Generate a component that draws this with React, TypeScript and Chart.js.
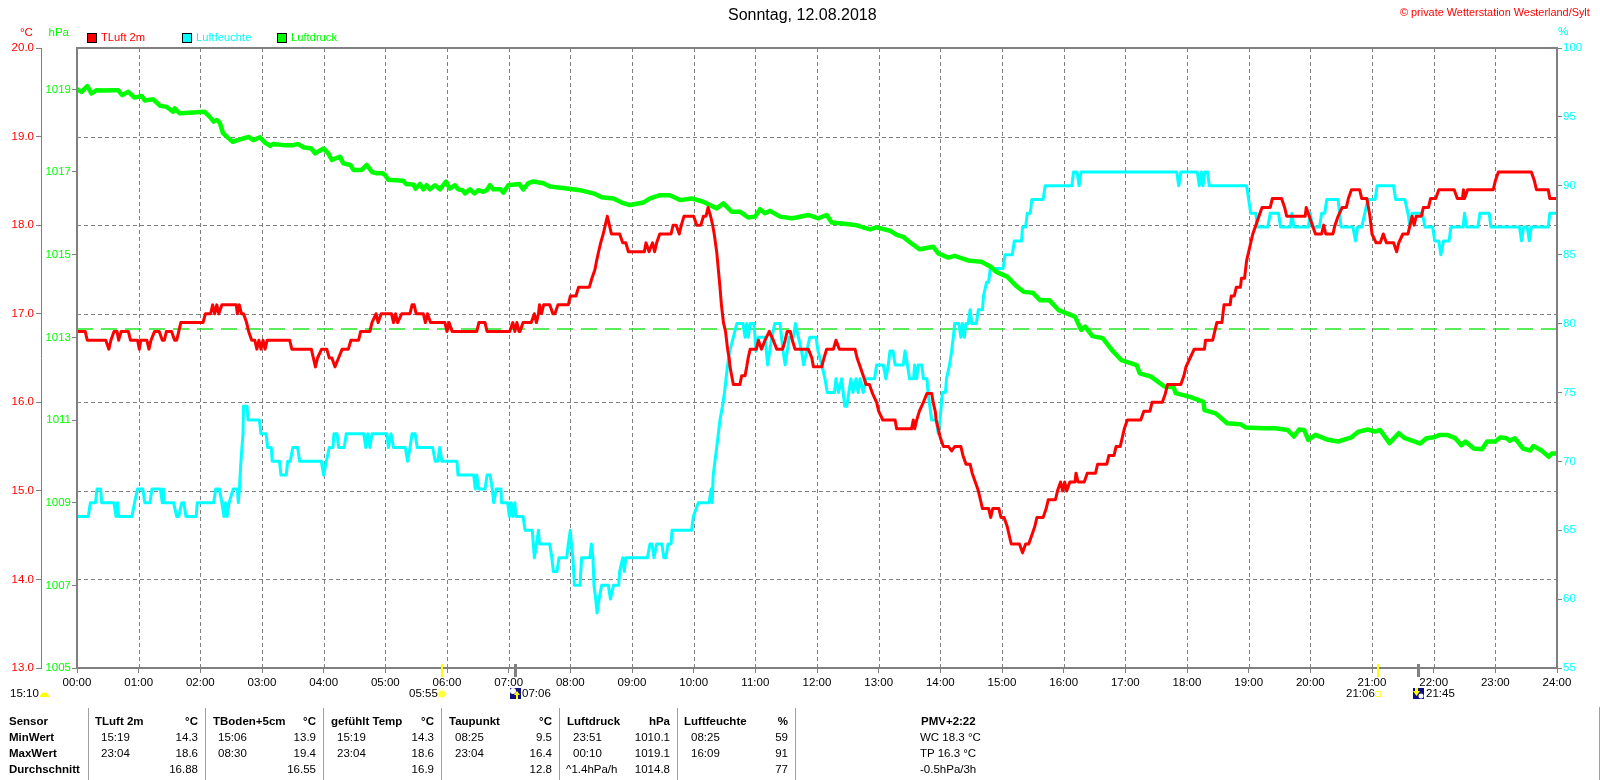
import React, { useEffect, useRef } from "react";
import { Chart, registerables } from "chart.js";

Chart.register(...registerables);

const FONT = '"Liberation Sans", Arial, sans-serif';
const GRAY = "#808080";
const RED = "#ff0000";
const CYAN = "#00ffff";
const GREEN = "#00ff00";

const hourTicks = [0, 60, 120, 180, 240, 300, 360, 420, 480, 540, 600, 660, 720, 780, 840, 900, 960, 1020, 1080, 1140, 1200, 1260, 1320, 1380, 1440];
const hourLabels = ["00:00", "01:00", "02:00", "03:00", "04:00", "05:00", "06:00", "07:00", "08:00", "09:00", "10:00", "11:00", "12:00", "13:00", "14:00", "15:00", "16:00", "17:00", "18:00", "19:00", "20:00", "21:00", "22:00", "23:00", "24:00"];
const tempTicks = [13, 14, 15, 16, 17, 18, 19, 20];
const pressureTicks = [1005, 1007, 1009, 1011, 1013, 1015, 1017, 1019];
const humidityTicks = [55, 60, 65, 70, 75, 80, 85, 90, 95, 100];
const referencePressure = 1013.2;

const tempTrace: [number, number][] = [
  [0,16.8],[8,16.8],[10,16.7],[28,16.7],[31,16.6],[33,16.7],[36,16.8],[39,16.8],[40.5,16.7],[43,16.8],[50,16.8],[52,16.7],[59,16.7],[60.6,16.6],[62,16.7],[68,16.7],[70,16.6],[72,16.7],[75.5,16.8],[80,16.8],[83,16.7],[85,16.7],[87,16.8],[92,16.8],[95,16.7],[97,16.7],[99,16.8],[101,16.9],[122.6,16.9],[125,17.0],[130,17.0],[132,17.1],[134,17.0],[136,17.1],[138,17.0],[141,17.1],[155,17.1],[156,17.0],[158,17.1],[160,17.0],[162,17.0],[165,16.9],[167,16.8],[170,16.7],[173,16.7],[175,16.6],[177,16.7],[179,16.6],[181,16.7],[183,16.6],[185,16.7],[207,16.7],[209,16.6],[228,16.6],[230,16.5],[232,16.4],[234,16.5],[238,16.6],[243,16.6],[245.5,16.5],[248,16.5],[251,16.4],[254.5,16.5],[258,16.6],[264,16.6],[266.5,16.7],[274,16.7],[276,16.8],[285,16.8],[287,16.9],[291,17.0],[293,16.9],[296,17.0],[306,17.0],[308,16.9],[310,17.0],[312,16.9],[316,17.0],[324,17.0],[326,17.1],[328,17.1],[330,17.0],[337,17.0],[339,16.9],[341,17.0],[344,16.9],[358,16.9],[360,16.8],[362,16.9],[365,16.8],[389,16.8],[391,16.9],[397,16.9],[399,16.8],[421,16.8],[424,16.9],[426,16.8],[428,16.9],[430,16.8],[431,16.8],[434,16.9],[442,16.9],[445,17.0],[447,16.9],[449,17.0],[450,17.1],[452,17.0],[454,17.1],[460,17.1],[463,17.0],[465,17.0],[468,17.1],[478,17.1],[480,17.2],[485.5,17.2],[488,17.3],[498.5,17.3],[501,17.4],[504,17.5],[505.6,17.6],[507.5,17.7],[509.5,17.8],[512,17.9],[514,18.0],[516,18.1],[518,18.0],[520,17.9],[528,17.9],[531,17.8],[534,17.8],[536.5,17.7],[552,17.7],[553.6,17.8],[556.6,17.7],[560,17.8],[562,17.7],[564,17.8],[567,17.9],[578,17.9],[580,18.0],[583,18.0],[586,17.9],[588,18.0],[590.6,18.1],[600,18.1],[603,18.0],[607,18.0],[609.5,18.1],[612,18.1],[614,18.2],[616.5,18.1],[618.5,18.0],[620,17.9],[622.4,17.7],[624,17.5],[625.6,17.3],[627,17.1],[629,16.9],[631,16.8],[633,16.6],[634.5,16.5],[635.4,16.4],[637,16.3],[638.6,16.2],[645,16.2],[646.7,16.3],[650,16.3],[651.6,16.4],[653,16.5],[655,16.6],[661,16.6],[663,16.7],[666,16.6],[669.4,16.7],[673.6,16.8],[677.5,16.7],[680.8,16.6],[686.6,16.6],[689,16.7],[691,16.8],[694,16.8],[696,16.7],[698.6,16.6],[711.6,16.6],[715,16.5],[716.5,16.4],[724.6,16.4],[726.8,16.5],[729.4,16.6],[736,16.6],[738.5,16.7],[741.7,16.6],[757,16.6],[759,16.5],[762,16.4],[765,16.3],[767.7,16.2],[771,16.2],[774,16.1],[778,16.0],[780,15.9],[784,15.8],[796,15.8],[797.5,15.7],[812,15.7],[813.7,15.8],[815,15.7],[817,15.8],[819.6,15.9],[823.5,16.0],[827,16.1],[831.6,16.1],[833,16.0],[835,15.9],[836,15.8],[838,15.7],[840,15.6],[843,15.5],[848,15.5],[851,15.45],[854,15.5],[860,15.5],[862,15.4],[865,15.3],[869,15.3],[871,15.2],[874,15.1],[877,15.0],[879,14.9],[881,14.8],[887,14.8],[889,14.7],[891,14.8],[897,14.8],[899,14.7],[902,14.7],[905,14.6],[907,14.5],[909,14.4],[917,14.4],[920,14.3],[923,14.4],[926,14.4],[929,14.5],[932,14.6],[934,14.7],[940,14.7],[943,14.8],[945,14.9],[952,14.9],[954,15.0],[957,15.1],[959,15.0],[961,15.1],[963,15.0],[966,15.1],[971,15.1],[972,15.2],[974,15.1],[980,15.1],[983,15.2],[991,15.2],[993,15.3],[1002,15.3],[1004,15.4],[1009,15.4],[1011,15.5],[1015,15.5],[1017,15.6],[1019,15.7],[1022,15.8],[1035,15.8],[1038,15.9],[1044,15.9],[1046,16.0],[1056,16.0],[1059,16.1],[1061,16.2],[1074,16.2],[1077,16.3],[1079,16.4],[1083,16.5],[1087,16.6],[1097,16.6],[1098,16.7],[1105,16.7],[1107,16.8],[1109,16.9],[1114,16.9],[1116,17.1],[1122,17.1],[1123,17.2],[1126,17.2],[1128,17.3],[1132,17.3],[1133,17.4],[1136,17.4],[1138,17.6],[1140,17.7],[1142,17.8],[1144,17.9],[1147,18.0],[1150,18.1],[1153,18.2],[1161,18.2],[1163,18.3],[1172,18.3],[1175,18.2],[1177,18.1],[1195,18.1],[1196,18.2],[1199,18.1],[1202,18.0],[1205,17.9],[1211,17.9],[1213,18.0],[1215,17.9],[1222,17.9],[1224,18.0],[1227,18.1],[1231,18.2],[1235,18.2],[1237,18.3],[1240,18.4],[1248,18.4],[1250,18.3],[1255,18.3],[1258,18.1],[1260,17.9],[1264,17.8],[1268,17.8],[1271,17.9],[1274,17.8],[1281,17.8],[1284,17.7],[1286,17.8],[1290,17.9],[1295,17.9],[1297,18.0],[1299,18.1],[1301,18.0],[1303,18.1],[1308,18.1],[1310,18.2],[1315,18.2],[1317,18.3],[1322,18.3],[1325,18.4],[1340,18.4],[1343,18.3],[1348,18.3],[1349,18.4],[1350,18.3],[1353,18.4],[1378,18.4],[1380,18.5],[1383,18.6],[1415,18.6],[1418,18.5],[1420,18.4],[1431.5,18.4],[1433,18.3],[1440,18.3],
];

const humidityTrace: [number, number][] = [
  [0,66],[11,66],[13,67],[18,67],[19.5,68],[23,68],[24,67],[36,67],[38,66],[39.5,67],[40.5,66],[53.5,66],[56,67],[59,68],[64,68],[66,67],[71,67],[73,68],[81,68],[83,67],[84,68],[85,67],[94,67],[97,66],[99,66],[102,67],[104,67],[106,66],[116,66],[117,67],[133,67],[135,68],[138.5,68],[141,67],[143,66],[144.5,67],[146,66],[148,67],[152,68],[156,68],[157,67],[158,68],[159.5,70],[160.5,71],[161.5,72],[162,74],[165.4,74],[166.4,73],[177.4,73],[179,72],[184,72],[185.5,71],[189,71],[190,70],[197,70],[198.5,69],[203.6,69],[205,70],[207.5,70],[210,71],[214.7,71],[216.6,70],[237.7,70],[240,69],[242.6,70],[245.5,71],[249,71],[250,72],[253,72],[254.6,71],[260,71],[262,72],[279,72],[281,71],[283,72],[285,71],[287,72],[301.6,72],[303,71],[305.5,72],[308,71],[319.4,71],[321.7,70],[324,71],[326,72],[329,72],[331,71],[346,71],[348.6,70],[351,70],[353,71],[355,70],[369.7,70],[370.7,69],[386,69],[387.5,68],[389,69],[390.8,68],[397,68],[399,69],[402,69],[404,68],[405.4,67],[408,68],[412.5,68],[413,67],[419,67],[420.7,66],[422.6,67],[424,66],[426,67],[427,66],[434,66],[436,65],[443,65],[444,64],[445,63],[447,64],[449,65],[450,64],[460,64],[462,63],[463.5,62],[467,62],[469,63],[476.5,63],[478,64],[480,65],[481,64],[482.5,63],[484,61],[489.4,61],[491,63],[499,63],[500.5,64],[502,63],[503,61],[504.7,60],[506,59],[508,60],[510.5,61],[517,61],[519,60],[522,61],[527,61],[528,62],[531,63],[532.5,62],[534,63],[555,63],[557.5,64],[559.5,64],[561.4,63],[564,64],[569,64],[571,63],[573,63],[575,64],[578,64],[579,65],[598,65],[599.7,66],[604.5,67],[615,67],[617,68],[618,67],[619,69],[622.4,71],[624,72],[625.6,73],[628,74],[630,75],[631.5,76],[633,77],[635,78],[638.6,79],[642,80],[648,80],[650,79],[651.6,80],[653,79],[655,80],[658.7,80],[660.7,78],[663,79],[669.4,79],[672,77],[674,78],[676,79],[679,80],[684,80],[687,78],[689,77],[691,78],[693,79],[697,79],[699,80],[702,79],[705,78],[707,77],[710,78],[713,79],[719,79],[721,78],[724.6,77],[727.8,76],[730,75],[737,75],[738.5,76],[741,75],[744,76],[747,74],[749,74],[751,75],[753,76],[755,75],[758,76],[760,75],[762,76],[765,75],[767.7,76],[776,76],[778,77],[784.5,77],[787,76],[789.4,77],[791,78],[794,78],[796,77],[804,77],[805.6,78],[808,77],[810,76],[814,76],[815,77],[817,76],[818.6,77],[822,77],[823.5,76],[827,76],[828,75],[831.6,73],[836,73],[838,72],[839.7,73],[842,75],[845,75],[846,76],[849,77],[851,78],[852.6,79],[854,80],[858,80],[860,79],[861.6,80],[863.4,79],[865,80],[867,80],[869,81],[870.6,80],[875,80],[877,81],[881,81],[882,82],[885,83],[887,83],[888.6,84],[901,84],[903,85],[910,85],[912,86],[919,86],[920,87],[923,87],[924.6,88],[927.5,88],[929,89],[940,89],[942,90],[968,90],[969.6,91],[973,91],[975,90],[976.8,91],[1070,91],[1072,90],[1074,91],[1090,91],[1092,90],[1094,91],[1095.6,90],[1097.4,91],[1100,91],[1101.7,90],[1138,90],[1140,89],[1142,88],[1147,88],[1148.5,87],[1158.6,87],[1161,88],[1169,88],[1171,87],[1180.6,87],[1182,88],[1184,87],[1198,87],[1200,88],[1202,87],[1209,87],[1211,88],[1214,88],[1216,89],[1227,89],[1230,87],[1241.4,87],[1244,86],[1246,87],[1250,87],[1253,88],[1256,89],[1263,89],[1265,90],[1281,90],[1283,89],[1292,89],[1295,88],[1297,87],[1299,88],[1309,88],[1311.6,87],[1319,87],[1321,86],[1325,86],[1327,85],[1329.6,86],[1335,86],[1336.8,87],[1348.7,87],[1350,88],[1352,87],[1363,87],[1365,88],[1374,88],[1375.7,87],[1403.5,87],[1405.5,86],[1407.5,87],[1411,87],[1413,86],[1415,87],[1431.5,87],[1433,88],[1440,88],
];

const pressureTrace: [number, number][] = [
  [0,1019.0],[4.5,1018.94],[10,1019.08],[14,1018.9],[19,1018.98],[25.6,1018.97],[35,1018.98],[40,1018.98],[44,1018.86],[50,1018.94],[56,1018.8],[63,1018.84],[66,1018.73],[74,1018.76],[81,1018.6],[87,1018.58],[93.5,1018.46],[95,1018.54],[100,1018.42],[113,1018.44],[124,1018.46],[129,1018.34],[133,1018.22],[136,1018.26],[139,1018.19],[142,1017.94],[146,1017.85],[151.5,1017.73],[158.6,1017.79],[167,1017.85],[171.6,1017.77],[178,1017.84],[183,1017.71],[188,1017.63],[191,1017.68],[201,1017.65],[210.5,1017.65],[215,1017.68],[220,1017.6],[228,1017.57],[231.6,1017.45],[240,1017.57],[244.5,1017.45],[248,1017.29],[256,1017.37],[259,1017.21],[266,1017.17],[269,1017.05],[277,1017.05],[282,1017.17],[287,1017.0],[291.6,1016.97],[297,1016.97],[299.7,1016.93],[302.9,1016.81],[317.5,1016.79],[320,1016.71],[327.2,1016.7],[329.5,1016.6],[333.7,1016.71],[337,1016.58],[340.2,1016.68],[343.4,1016.58],[348.3,1016.68],[353.2,1016.58],[359,1016.77],[362.9,1016.6],[367.8,1016.68],[371,1016.58],[375.2,1016.56],[377.5,1016.48],[382.4,1016.58],[386.6,1016.48],[390.5,1016.56],[395.3,1016.52],[398.6,1016.56],[401.8,1016.68],[405,1016.58],[412.2,1016.58],[414.8,1016.5],[419.6,1016.68],[430.4,1016.71],[434.2,1016.58],[439.1,1016.73],[444,1016.77],[453.8,1016.73],[460.2,1016.65],[476.5,1016.6],[489.4,1016.56],[504,1016.47],[510.5,1016.39],[521.9,1016.36],[530,1016.26],[538,1016.2],[551,1016.26],[557.5,1016.36],[567.3,1016.44],[577,1016.44],[586.7,1016.32],[598,1016.36],[609.4,1016.28],[622.4,1016.12],[628.9,1016.24],[637,1016.04],[645,1016.04],[653,1015.9],[659.7,1015.92],[664.6,1016.1],[669.4,1016.0],[674.3,1016.06],[684,1015.92],[695.4,1015.88],[700,1015.9],[711.6,1015.96],[721.3,1015.88],[729.4,1015.96],[734.3,1015.78],[748.9,1015.74],[757,1015.72],[771.6,1015.61],[778,1015.66],[791,1015.58],[797.5,1015.48],[804,1015.43],[812,1015.27],[820,1015.13],[833.2,1015.19],[838,1015.03],[847.8,1014.93],[854,1014.97],[867,1014.86],[880,1014.83],[889,1014.71],[894,1014.59],[905,1014.47],[914,1014.24],[921,1014.1],[930,1014.08],[937,1013.9],[946,1013.9],[955,1013.66],[971,1013.5],[977,1013.18],[981,1013.26],[988,1013.03],[998,1012.98],[1007,1012.69],[1016,1012.45],[1031,1012.33],[1034,1012.13],[1045,1012.05],[1058,1011.81],[1067,1011.79],[1069,1011.65],[1083,1011.56],[1096,1011.44],[1097,1011.24],[1108,1011.16],[1119,1010.92],[1132,1010.9],[1137,1010.82],[1155,1010.8],[1166,1010.8],[1178,1010.76],[1184,1010.6],[1189,1010.77],[1194,1010.76],[1198,1010.52],[1205,1010.64],[1216,1010.53],[1227,1010.48],[1240,1010.58],[1247,1010.72],[1256,1010.77],[1263,1010.72],[1268,1010.76],[1277,1010.44],[1286,1010.68],[1292,1010.56],[1297,1010.52],[1307,1010.43],[1313,1010.56],[1320,1010.58],[1326,1010.64],[1333,1010.64],[1341,1010.56],[1347,1010.39],[1351,1010.48],[1359,1010.31],[1367,1010.29],[1372,1010.48],[1380,1010.48],[1385,1010.58],[1391,1010.56],[1394,1010.5],[1399,1010.56],[1407,1010.31],[1414,1010.26],[1417,1010.37],[1425,1010.26],[1432,1010.11],[1435,1010.19],[1440,1010.19],
];

const sunMarkers = [355, 1266];
const moonMarkers = [426, 1305];

const legendItems = [
  { label: "TLuft 2m", color: RED, box: 87, text: 101 },
  { label: "Luftfeuchte", color: CYAN, box: 182, text: 196 },
  { label: "Luftdruck", color: GREEN, box: 277, text: 291 },
];

const rowLabels = ["Sensor", "MinWert", "MaxWert", "Durchschnitt"];
const separators = [88, 205, 323, 441, 559, 677, 795];
const rowY = [722, 738, 754, 770];
const sensorCols = [
  { head: "TLuft 2m", unit: "°C", min: "15:19", minV: "14.3", max: "23:04", maxV: "18.6", avg: "16.88", note: "", hx: 95, tx: 101, rx: 198 },
  { head: "TBoden+5cm", unit: "°C", min: "15:06", minV: "13.9", max: "08:30", maxV: "19.4", avg: "16.55", note: "", hx: 213, tx: 218, rx: 316 },
  { head: "gefühlt Temp", unit: "°C", min: "15:19", minV: "14.3", max: "23:04", maxV: "18.6", avg: "16.9", note: "", hx: 331, tx: 337, rx: 434 },
  { head: "Taupunkt", unit: "°C", min: "08:25", minV: "9.5", max: "23:04", maxV: "16.4", avg: "12.8", note: "", hx: 449, tx: 455, rx: 552 },
  { head: "Luftdruck", unit: "hPa", min: "23:51", minV: "1010.1", max: "00:10", maxV: "1019.1", avg: "1014.8", note: "^1.4hPa/h", hx: 567, tx: 573, rx: 670 },
  { head: "Luftfeuchte", unit: "%", min: "08:25", minV: "59", max: "16:09", maxV: "91", avg: "77", note: "", hx: 684, tx: 691, rx: 788 },
];
const extraLines = ["WC 18.3 °C", "TP 16.3 °C", "-0.5hPa/3h"];

function toPoints(trace: [number, number][]) {
  return trace.map(([x, y]) => ({ x, y }));
}

const framePlugin = {
  id: "frame",
  beforeDatasetsDraw(chart: any) {
    const { ctx, chartArea: a, scales } = chart;
    ctx.save();
    ctx.strokeStyle = GRAY;
    ctx.lineWidth = 1;
    ctx.setLineDash([4, 3]);
    ctx.beginPath();
    hourTicks.slice(1, -1).forEach((t) => {
      const x = Math.round(scales.x.getPixelForValue(t)) + 0.5;
      ctx.moveTo(x, a.top);
      ctx.lineTo(x, a.bottom);
    });
    tempTicks.slice(1, -1).forEach((t) => {
      const y = Math.round(scales.temp.getPixelForValue(t)) + 0.5;
      ctx.moveTo(a.left, y);
      ctx.lineTo(a.right, y);
    });
    ctx.stroke();
    ctx.restore();
  },
  afterDatasetsDraw(chart: any) {
    const { ctx, chartArea: a, scales } = chart;
    ctx.save();
    ctx.strokeStyle = GRAY;
    ctx.lineWidth = 2;
    ctx.strokeRect(a.left, a.top, a.right - a.left, a.bottom - a.top);
    sunMarkers.forEach((m) => {
      const x = Math.round(scales.x.getPixelForValue(m));
      ctx.fillStyle = "#ffff00";
      ctx.fillRect(x - 1, a.bottom - 4, 2, 13);
    });
    moonMarkers.forEach((m) => {
      const x = Math.round(scales.x.getPixelForValue(m));
      ctx.fillStyle = GRAY;
      ctx.fillRect(x - 1, a.bottom - 4, 3, 13);
    });
    // sun / moon symbols of the almanac row
    const rowCy = 694;
    ctx.fillStyle = "#ffff00";
    ctx.beginPath();
    ctx.arc(44.5, 697, 4.5, Math.PI, 0);
    ctx.closePath();
    ctx.fill();
    const sx = scales.x.getPixelForValue(sunMarkers[0]);
    ctx.fillStyle = "#ffff33";
    ctx.beginPath();
    ctx.arc(sx, rowCy, 3.5, 0, Math.PI * 2);
    ctx.fill();
    ctx.strokeStyle = "#ffff99";
    ctx.lineWidth = 1;
    ctx.beginPath();
    for (let i = 0; i < 8; i++) {
      const c = Math.cos((i * Math.PI) / 4);
      const s = Math.sin((i * Math.PI) / 4);
      ctx.moveTo(sx + c * 4, rowCy + s * 4);
      ctx.lineTo(sx + c * 6, rowCy + s * 6);
    }
    ctx.stroke();
    const sx2 = scales.x.getPixelForValue(sunMarkers[1]);
    ctx.strokeStyle = "#ffff33";
    ctx.strokeRect(sx2 - 2.5, rowCy - 2.5, 5, 5);
    moonMarkers.forEach((m, i) => {
      const mx = Math.round(scales.x.getPixelForValue(m));
      const left = mx - 5;
      const top = rowCy - 6;
      ctx.fillStyle = "#101080";
      ctx.fillRect(left, top, 11, 11);
      ctx.fillStyle = "#ffffff";
      ctx.beginPath();
      if (i === 0) ctx.arc(left + 3, top + 3, 3, 0, Math.PI * 2);
      else ctx.arc(left + 8, top + 8, 2.5, 0, Math.PI * 2);
      ctx.fill();
      ctx.fillStyle = "#ffff00";
      ctx.beginPath();
      if (i === 0) {
        ctx.moveTo(left + 7, top + 3);
        ctx.lineTo(left + 10, top + 7);
        ctx.lineTo(left + 8, top + 7);
        ctx.lineTo(left + 8, top + 11);
        ctx.lineTo(left + 6, top + 11);
        ctx.lineTo(left + 6, top + 7);
        ctx.lineTo(left + 4, top + 7);
      } else {
        ctx.moveTo(left + 2, top);
        ctx.lineTo(left + 5, top);
        ctx.lineTo(left + 5, top + 3);
        ctx.lineTo(left + 7, top + 3);
        ctx.lineTo(left + 3.5, top + 8);
        ctx.lineTo(left, top + 3);
        ctx.lineTo(left + 2, top + 3);
      }
      ctx.closePath();
      ctx.fill();
    });
    ctx.restore();
  },
};

function Txt(props: { x: number; y: number; color?: string; right?: boolean; bold?: boolean; size?: number; children: React.ReactNode }) {
  const { x, y, color = "#000", right, bold, size = 11.5, children } = props;
  return (
    <span
      style={{
        position: "absolute",
        left: x,
        top: y,
        transform: right ? "translate(-100%,-50%)" : "translateY(-50%)",
        color,
        fontFamily: FONT,
        fontSize: size,
        fontWeight: bold ? 700 : 400,
        whiteSpace: "nowrap",
        lineHeight: 1,
      }}
    >
      {children}
    </span>
  );
}

export default function App() {
  const ref = useRef<HTMLCanvasElement | null>(null);

  useEffect(() => {
    const canvas = ref.current;
    if (!canvas) return;
    const tickFont = { family: FONT, size: 11.5 };
    const chart = new Chart(canvas, {
      type: "line",
      data: {
        datasets: [
          { label: "TLuft 2m", data: toPoints(tempTrace), yAxisID: "temp", borderColor: RED, borderWidth: 3 },
          { label: "Luftdruck", data: toPoints(pressureTrace), yAxisID: "pressure", borderColor: GREEN, borderWidth: 4.5 },
          { label: "Luftfeuchte", data: toPoints(humidityTrace), yAxisID: "humidity", borderColor: CYAN, borderWidth: 3 },
          {
            label: "1013.2 hPa",
            data: [{ x: 0, y: referencePressure }, { x: 1440, y: referencePressure }],
            yAxisID: "pressure",
            borderColor: "#22e622",
            borderWidth: 1.5,
            borderDash: [16, 8],
          },
        ],
      },
      options: {
        animation: false,
        responsive: false,
        devicePixelRatio: 1,
        layout: { padding: { top: 48, left: 0, right: 0, bottom: 0 } },
        elements: { point: { radius: 0 }, line: { tension: 0, borderJoinStyle: "round" } },
        plugins: { legend: { display: false }, tooltip: { enabled: false }, title: { display: false } },
        scales: {
          x: {
            type: "linear",
            min: 0,
            max: 1440,
            position: "bottom",
            afterBuildTicks: (s: any) => { s.ticks = hourTicks.map((value) => ({ value })); },
            afterFit: (s: any) => { s.height = 112; },
            grid: { drawOnChartArea: false, color: GRAY, tickLength: 5 },
            border: { display: false },
            ticks: {
              autoSkip: false,
              maxRotation: 0,
              minRotation: 0,
              padding: 3,
              color: "#000",
              font: tickFont,
              callback: (v: any) => hourLabels[hourTicks.indexOf(Number(v))],
            },
          },
          temp: {
            type: "linear",
            position: "left",
            weight: 2,
            min: 13,
            max: 20,
            afterBuildTicks: (s: any) => { s.ticks = tempTicks.map((value) => ({ value })); },
            afterFit: (s: any) => { s.width = 41; },
            grid: { drawOnChartArea: false, color: GRAY, tickLength: 5 },
            border: { display: true, color: GRAY, width: 1 },
            ticks: { padding: 2, color: RED, font: tickFont, callback: (v: any) => Number(v).toFixed(1) },
          },
          pressure: {
            type: "linear",
            position: "left",
            weight: 1,
            min: 1005,
            max: 1020,
            afterBuildTicks: (s: any) => { s.ticks = pressureTicks.map((value) => ({ value })); },
            afterFit: (s: any) => { s.width = 36; },
            grid: { drawOnChartArea: false, color: GRAY, tickLength: 5 },
            border: { display: false },
            ticks: { padding: 1, color: GREEN, font: tickFont, callback: (v: any) => String(v) },
          },
          humidity: {
            type: "linear",
            position: "right",
            min: 55,
            max: 100,
            afterBuildTicks: (s: any) => { s.ticks = humidityTicks.map((value) => ({ value })); },
            afterFit: (s: any) => { s.width = 43; },
            grid: { drawOnChartArea: false, color: GRAY, tickLength: 5 },
            border: { display: false },
            ticks: { padding: 1, color: CYAN, font: tickFont, callback: (v: any) => String(v) },
          },
        },
      },
      plugins: [framePlugin],
    } as any);
    return () => chart.destroy();
  }, []);

  return (
    <div style={{ position: "absolute", left: 0, top: 0, width: 1600, height: 780, overflow: "hidden", background: "#fff" }}>
      <canvas ref={ref} width={1600} height={780} style={{ position: "absolute", left: 0, top: 0, display: "block" }} />
      <Txt x={728} y={15} size={16}>Sonntag, 12.08.2018</Txt>
      <Txt x={1400} y={12} color={RED} size={10.9}>© private Wetterstation Westerland/Sylt</Txt>
      <Txt x={20} y={33} color={RED}>°C</Txt>
      <Txt x={48.5} y={33} color={GREEN}>hPa</Txt>
      <Txt x={1558} y={32} color={CYAN}>%</Txt>
      {legendItems.map((l) => (
        <React.Fragment key={l.label}>
          <span style={{ position: "absolute", left: l.box, top: 33, width: 8, height: 8, background: l.color, border: "1px solid #000" }} />
          <Txt x={l.text} y={38} color={l.color} size={11.2}>{l.label}</Txt>
        </React.Fragment>
      ))}
      <Txt x={10} y={694}>15:10</Txt>
      <Txt x={409} y={694}>05:55</Txt>
      <Txt x={522} y={694}>07:06</Txt>
      <Txt x={1346} y={694}>21:06</Txt>
      <Txt x={1426} y={694}>21:45</Txt>
      {separators.map((x) => (
        <span key={x} style={{ position: "absolute", left: x, top: 708, width: 1, height: 72, background: "#a0a0a0" }} />
      ))}
      <span style={{ position: "absolute", left: 1599, top: 707, width: 1, height: 73, background: "#a0a0a0" }} />
      {rowLabels.map((t, i) => (
        <Txt key={t} x={9} y={rowY[i]} bold>{t}</Txt>
      ))}
      {sensorCols.map((c) => (
        <React.Fragment key={c.head}>
          <Txt x={c.hx} y={rowY[0]} bold>{c.head}</Txt>
          <Txt x={c.rx} y={rowY[0]} right bold>{c.unit}</Txt>
          <Txt x={c.tx} y={rowY[1]}>{c.min}</Txt>
          <Txt x={c.rx} y={rowY[1]} right>{c.minV}</Txt>
          <Txt x={c.tx} y={rowY[2]}>{c.max}</Txt>
          <Txt x={c.rx} y={rowY[2]} right>{c.maxV}</Txt>
          {c.note ? <Txt x={566} y={rowY[3]}>{c.note}</Txt> : null}
          <Txt x={c.rx} y={rowY[3]} right>{c.avg}</Txt>
        </React.Fragment>
      ))}
      <Txt x={921} y={rowY[0]} bold>PMV+2:22</Txt>
      {extraLines.map((t, i) => (
        <Txt key={t} x={920} y={rowY[i + 1]}>{t}</Txt>
      ))}
    </div>
  );
}
